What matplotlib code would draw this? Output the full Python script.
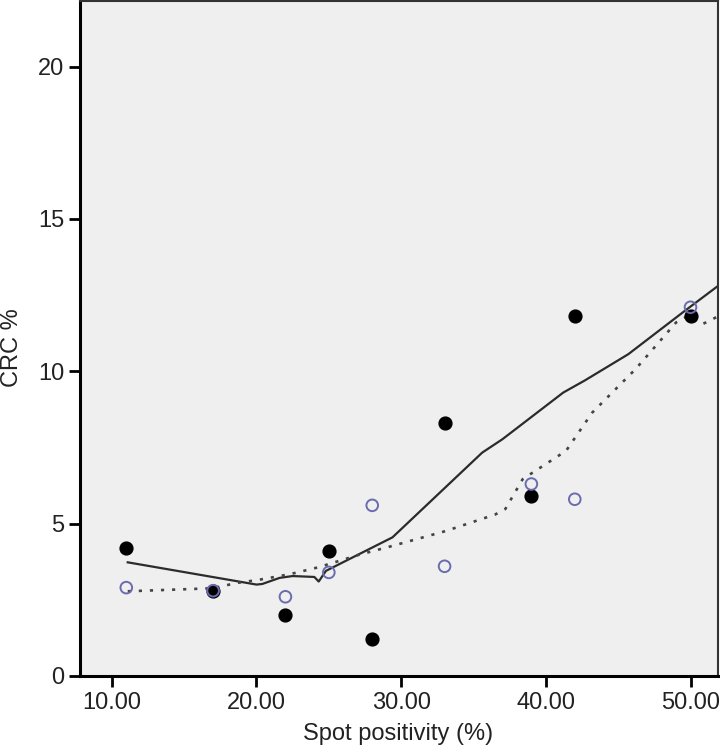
import matplotlib
matplotlib.use("Agg")
import matplotlib.pyplot as plt

plt.rcParams['font.family'] = ['Liberation Sans', 'DejaVu Sans']

# Data
x_pts = [11, 17, 22, 25, 28, 33, 39, 42, 50]
y_filled = [4.2, 2.8, 2.0, 4.1, 1.2, 8.3, 5.9, 11.8, 11.8]
y_open = [2.9, 2.8, 2.6, 3.4, 5.6, 3.6, 6.3, 5.8, 12.1]

solid_x = [11.1, 20.0, 20.4, 21.6, 22.5, 24.0, 24.3, 24.8, 27.1, 29.4, 35.6, 37.0, 41.2, 42.7, 45.7, 49.6, 51.9]
solid_y = [3.73, 3.0, 3.02, 3.22, 3.28, 3.25, 3.1, 3.45, 4.0, 4.55, 7.33, 7.77, 9.3, 9.7, 10.56, 11.98, 12.8]

dot_x = [11.1, 17.0, 18.6, 20.2, 22.3, 24.3, 27.1, 29.4, 33.1, 36.5, 37.2, 38.4, 41.4, 43.2, 46.2, 49.0, 49.8, 50.8, 51.9]
dot_y = [2.78, 2.88, 3.05, 3.16, 3.34, 3.57, 3.98, 4.27, 4.76, 5.3, 5.48, 6.46, 7.39, 8.64, 10.07, 11.6, 11.81, 11.54, 11.8]

x_ticks = [10, 20, 30, 40, 50]
x_ticklabels = ['10.00', '20.00', '30.00', '40.00', '50.00']
y_ticks = [0, 5, 10, 15, 20]

fig = plt.figure(figsize=(7.2, 7.53), dpi=100)
ax = fig.add_axes([80/720, 1 - 676/753, 638/720, 675/753])
ax.set_facecolor('#efefef')

ax.plot(solid_x, solid_y, color='#2b2b2b', lw=1.6, zorder=2)
ax.plot(dot_x, dot_y, color='#444444', lw=1.9, linestyle=(0, (1.2, 3.0)), zorder=2)
ax.scatter(x_pts, y_filled, s=85, color='black', zorder=3)
ax.scatter(x_pts, y_open, s=70, facecolors='none', edgecolors='#6b6bb0', linewidths=1.4, zorder=4)

ax.set_xlim(7.8, 51.9)
ax.set_ylim(0, 22.15)
ax.set_xticks(x_ticks)
ax.set_xticklabels(x_ticklabels)
ax.set_yticks(y_ticks)
ax.tick_params(axis='both', labelsize=17, length=8, width=2, direction='out', color='black', labelcolor='#222222')

for side in ['left', 'bottom']:
    ax.spines[side].set_linewidth(2.2)
    ax.spines[side].set_color('black')
for side in ['top', 'right']:
    ax.spines[side].set_linewidth(1.5)
    ax.spines[side].set_color('#333333')

ax.set_xlabel('Spot positivity (%)', fontsize=17, color='#222222')
ax.set_ylabel('CRC %', fontsize=17, color='#222222')
ax.xaxis.set_label_coords(0.498, -0.070)
ax.yaxis.set_label_coords(-0.089, 0.486)

fig.savefig('out.png', dpi=100)
